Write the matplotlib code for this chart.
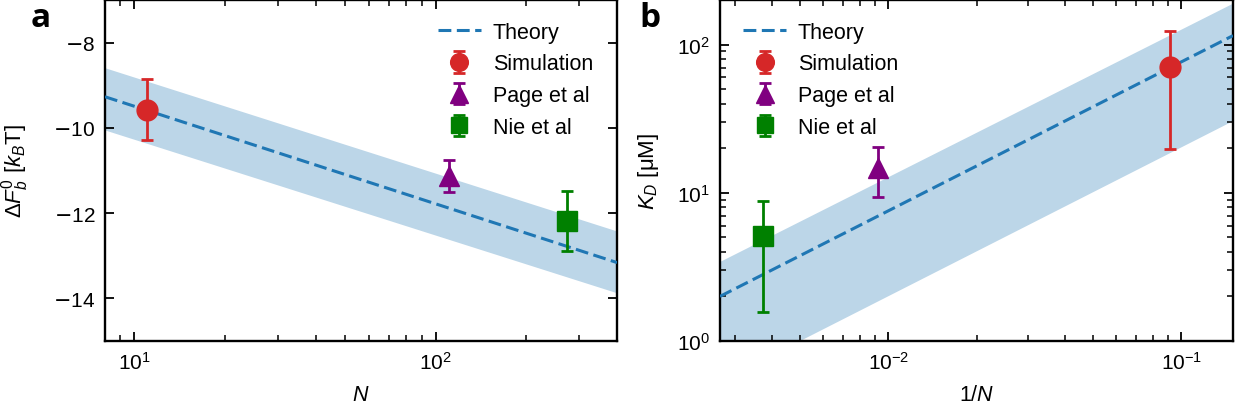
import numpy as np
import matplotlib
matplotlib.use("Agg")
import matplotlib.pyplot as plt
from matplotlib.ticker import FuncFormatter

plt.rcParams['font.family'] = ['Liberation Sans', 'DejaVu Sans']
plt.rcParams['mathtext.fontset'] = 'custom'
plt.rcParams['mathtext.rm'] = 'Liberation Sans'
plt.rcParams['mathtext.it'] = 'Liberation Sans:italic'
plt.rcParams['mathtext.bf'] = 'Liberation Sans:bold'
plt.rcParams['mathtext.sf'] = 'DejaVu Sans'

# ---------------- data: panel a ----------------
a_theory_N = [8, 400]
a_theory_F = [-9.27, -13.16]
a_band_upper = [-8.59, -12.42]
a_band_lower = [-10.05, -13.87]

a_sim_N = [11.0]
a_sim_F = [-9.57]
a_sim_err = [0.72]
a_page_N = [111]
a_page_F = [-11.13]
a_page_err = [0.37]
a_nie_N = [272]
a_nie_F = [-12.19]
a_nie_err = [0.70]

a_yticks = [-8, -10, -12, -14]

# ---------------- data: panel b ----------------
b_theory_x = [1 / 375, 0.15]
b_theory_K = [2.0, 115]
b_band_upper = [3.45, 191]
b_band_lower = [0.537, 30.8]

b_sim_x = [0.0912]
b_sim_K = [70.3]
b_sim_lo = [19.6]
b_sim_hi = [123]
b_page_x = [0.00925]
b_page_K = [14.8]
b_page_lo = [9.4]
b_page_hi = [20.5]
b_nie_x = [0.00373]
b_nie_K = [5.1]
b_nie_lo = [1.57]
b_nie_hi = [8.74]

labels = ['Theory', 'Simulation', 'Page et al', 'Nie et al']

C_TH = '#1f77b4'
C_BAND = '#bcd6e8'
C_SIM = '#d62728'
C_PAGE = 'purple'
C_NIE = 'green'

FS = 15.5
TFS = 15
W, H = 1235, 414
fig = plt.figure(figsize=(W / 100, H / 100), dpi=100)
axa = fig.add_axes([105 / W, (H - 342) / H, 512 / W, 341 / H])
axb = fig.add_axes([720 / W, (H - 342) / H, 513 / W, 341 / H])

eb_kw = dict(linestyle='none', elinewidth=2, capsize=4.5, capthick=2, zorder=4)
th_kw = dict(linestyle='--', dashes=(4.2, 1.8), color=C_TH, lw=2.2, zorder=3)


def neg_fmt(v, pos):
    if v < 0:
        return r'$\mathsf{-}\mathrm{%g}$' % abs(v)
    return r'$\mathrm{%g}$' % v


# panel a
axa.fill_between(a_theory_N, a_band_lower, a_band_upper, color=C_BAND, lw=0, zorder=1)
axa.plot(a_theory_N, a_theory_F, label=labels[0], **th_kw)
axa.errorbar(a_sim_N, a_sim_F, yerr=a_sim_err, fmt='o', color=C_SIM, ms=15, label=labels[1], **eb_kw)
axa.errorbar(a_page_N, a_page_F, yerr=a_page_err, fmt='^', color=C_PAGE, ms=15, label=labels[2], **eb_kw)
axa.errorbar(a_nie_N, a_nie_F, yerr=a_nie_err, fmt='s', color=C_NIE, ms=14, label=labels[3], **eb_kw)
axa.set_xscale('log')
axa.set_xlim(8, 400)
axa.set_ylim(-15, -7)
axa.set_yticks(a_yticks)
axa.yaxis.set_major_formatter(FuncFormatter(neg_fmt))
axa.set_xlabel(r'$N$', fontsize=FS, labelpad=8)
axa.set_ylabel(r'$\Delta F_b^0\ [k_B\mathrm{T}]$', fontsize=FS + 0.5, labelpad=16)

# panel b
def asym(c, lo, hi):
    return [[ci - l for ci, l in zip(c, lo)], [h - ci for ci, h in zip(c, hi)]]

axb.fill_between(b_theory_x, b_band_lower, b_band_upper, color=C_BAND, lw=0, zorder=1)
axb.plot(b_theory_x, b_theory_K, label=labels[0], **th_kw)
axb.errorbar(b_sim_x, b_sim_K, yerr=asym(b_sim_K, b_sim_lo, b_sim_hi), fmt='o', color=C_SIM, ms=15, label=labels[1], **eb_kw)
axb.errorbar(b_page_x, b_page_K, yerr=asym(b_page_K, b_page_lo, b_page_hi), fmt='^', color=C_PAGE, ms=15, label=labels[2], **eb_kw)
axb.errorbar(b_nie_x, b_nie_K, yerr=asym(b_nie_K, b_nie_lo, b_nie_hi), fmt='s', color=C_NIE, ms=14, label=labels[3], **eb_kw)
axb.set_xscale('log')
axb.set_yscale('log')
axb.set_xlim(1 / 375, 0.15)
axb.set_ylim(1, 200)
axb.set_xlabel(r'$1/N$', fontsize=FS, labelpad=8)
axb.set_ylabel(r'$K_D$ [μM]', fontsize=FS + 0.5, labelpad=12)

for ax in (axa, axb):
    for s in ax.spines.values():
        s.set_linewidth(1.7)
    ax.tick_params(which='both', direction='in', top=True, right=True, labelsize=TFS)
    ax.tick_params(which='major', length=6.5, width=1.3, pad=7)
    ax.tick_params(which='minor', length=4, width=1.1)

axa.tick_params(axis='y', which='minor', left=False, right=False)

leg_kw = dict(frameon=False, fontsize=FS, markerscale=0.85, labelspacing=0.5,
              handletextpad=0.55, borderaxespad=0.0, handlelength=2.0)
axa.legend(loc='upper right', bbox_to_anchor=(0.970, 0.962), **leg_kw)
axb.legend(loc='upper left', bbox_to_anchor=(0.028, 0.962), **leg_kw)

fig.text(31 / W, 1 - 27 / H, 'a', fontsize=24, fontweight='bold', family=['Open Sans', 'DejaVu Sans'], va='baseline')
fig.text(639 / W, 1 - 27 / H, 'b', fontsize=24, fontweight='bold', family=['Open Sans', 'DejaVu Sans'], va='baseline')

fig.savefig('out.png', dpi=100)
